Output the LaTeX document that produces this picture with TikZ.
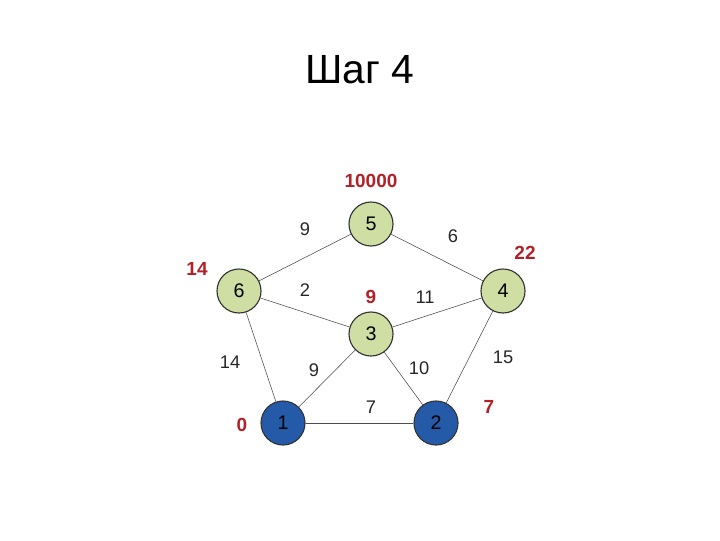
\documentclass[tikz,border=0pt]{standalone}
\usepackage{fontspec}
\setmainfont{Liberation Sans}
\definecolor{vgreen}{RGB}{207,222,163}
\definecolor{vblue}{RGB}{36,90,168}
\definecolor{vred}{RGB}{178,32,40}
\begin{document}
\begin{tikzpicture}[x=0.025cm, y=-0.025cm,
    vertex/.style={circle, draw=black!80, thick, fill=vgreen, minimum size=1.1cm, inner sep=0pt, font=\fontsize{14}{16}\selectfont},
    done/.style={vertex, fill=vblue},
    weight/.style={font=\fontsize{13}{15}\selectfont, text=black!85},
    dist/.style={font=\bfseries\fontsize{13.5}{16}\selectfont, text=vred}]
    \useasboundingbox (0,0) rectangle (720,540);

    % Title
    \node (title) at (360,70) {\fontsize{29}{34}\selectfont Шаг 4};

    % Vertices
    \node[done]   (v1) at (283,423) {1};
    \node[done]   (v2) at (436,423) {2};
    \node[vertex] (v3) at (371,334) {3};
    \node[vertex] (v4) at (503,291) {4};
    \node[vertex] (v5) at (371,224) {5};
    \node[vertex] (v6) at (239,291) {6};

    % Edges
    \draw[black!70] (v1) -- (v2);
    \draw[black!70] (v1) -- (v3);
    \draw[black!70] (v1) -- (v6);
    \draw[black!70] (v2) -- (v3);
    \draw[black!70] (v2) -- (v4);
    \draw[black!70] (v3) -- (v4);
    \draw[black!70] (v3) -- (v6);
    \draw[black!70] (v4) -- (v5);
    \draw[black!70] (v5) -- (v6);

    % Edge weights
    \node[weight] (w12) at (371,407) {7};
    \node[weight] (w13) at (314,370) {9};
    \node[weight] (w16) at (230,362) {14};
    \node[weight] (w23) at (419,368) {10};
    \node[weight] (w24) at (503,357) {15};
    \node[weight] (w34) at (425,297) {11};
    \node[weight] (w36) at (305,290) {2};
    \node[weight] (w45) at (453,236) {6};
    \node[weight] (w56) at (305,229) {9};

    % Distance labels
    \node[dist] (d1) at (242,425) {0};
    \node[dist] (d2) at (489,407) {7};
    \node[dist] (d3) at (371,297) {9};
    \node[dist] (d4) at (525,253) {22};
    \node[dist] (d5) at (371,181) {10000};
    \node[dist] (d6) at (197,269) {14};
\end{tikzpicture}
\end{document}
